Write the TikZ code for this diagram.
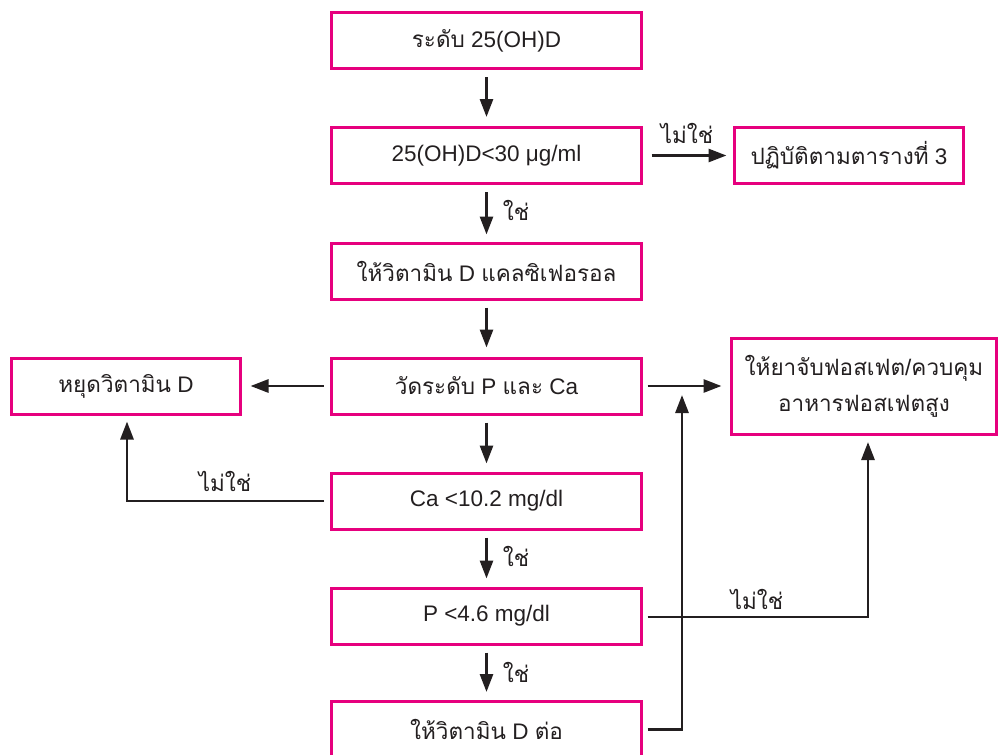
\documentclass[tikz,border=0pt]{standalone}
\usepackage{fontspec}
\setmainfont{Liberation Sans}
\newfontfamily\thaif[Script=Thai]{Loma}
\usetikzlibrary{arrows.meta}
\definecolor{boxpink}{RGB}{230,0,126}
\definecolor{ink}{RGB}{35,31,32}

\begin{document}
\begin{tikzpicture}[x=1pt,y=-1pt,
  box/.style={draw=boxpink, line width=3pt, minimum width=310pt, minimum height=56pt,
    inner sep=0pt, align=center, text=ink, font=\fontsize{22.5}{36}\selectfont},
  flow/.style={draw=ink, line width=2.8pt, -{Triangle[length=18pt,width=13pt]}},
  lbl/.style={inner sep=0pt, text=ink, font=\fontsize{22.5}{27}\selectfont}]

\useasboundingbox (0,0) rectangle (999,755);

% main column
\node[box] (b1) at (486.5,40.5) {{\thaif ระดับ} 25(OH)D};
\node[box] (b2) at (486.5,155.5) {25(OH)D<30 μg/ml};
\node[box] (b4) at (486.5,271) {{\thaif ให้วิตามิน} D {\thaif แคลซิเฟอรอล}};
\node[box] (b5) at (486.5,386) {{\thaif วัดระดับ} P {\thaif และ} Ca};
\node[box] (b8) at (486.5,501) {Ca <10.2 mg/dl};
\node[box] (b9) at (486.5,616) {P <4.6 mg/dl};
\node[box] (b10) at (486.5,729.5) {{\thaif ให้วิตามิน} D {\thaif ต่อ}};

% side boxes
\node[box, minimum width=229pt] (b3) at (849,155.5) {{\thaif ปฏิบัติตามตารางที่} 3};
\node[box, minimum width=229pt] (b6) at (126,386) {{\thaif หยุดวิตามิน} D};
\node[box, minimum width=265pt, minimum height=96pt] (b7) at (864,386.5)
  {{\thaif ให้ยาจับฟอสเฟต}/{\thaif ควบคุม}\\{\thaif อาหารฟอสเฟตสูง}};

% vertical flow
\draw[flow, shorten <=7pt, shorten >=9pt] (b1) -- (b2);
\draw[flow, shorten <=7pt, shorten >=7pt] (b2) -- (b4);
\draw[flow, shorten <=7pt, shorten >=9pt] (b4) -- (b5);
\draw[flow, shorten <=7pt, shorten >=8pt] (b5) -- (b8);
\draw[flow, shorten <=7pt, shorten >=8pt] (b8) -- (b9);
\draw[flow, shorten <=7pt, shorten >=8pt] (b9) -- (b10);

% side flow
\draw[flow, shorten <=8.5pt, shorten >=6.5pt] (b2) -- (b3);
\draw[flow, shorten <=6.5pt, shorten >=8.5pt] (b5) -- (b6);
\draw[flow, shorten <=4.5pt, shorten >=8.5pt] (b5.east) -- (b5.east -| b7.west);
\draw[flow] ([xshift=-6pt]b8.west) -| ([xshift=1pt,yshift=-6pt]b6.south);
\draw[flow] ([xshift=4.5pt,yshift=-1pt]b9.east) -| ([xshift=4pt,yshift=-6pt]b7.south);
\coordinate (jn) at (682,395);
\draw[flow] ([xshift=4.5pt]b10.east) -| (jn);

% labels
\node[lbl] (l1) at (687,133) {\thaif ไม่ใช่};
\node[lbl] (l2) at (516,210) {\thaif ใช่};
\node[lbl] (l3) at (225,481) {\thaif ไม่ใช่};
\node[lbl] (l4) at (516,556) {\thaif ใช่};
\node[lbl] (l5) at (757,599) {\thaif ไม่ใช่};
\node[lbl] (l6) at (516,672) {\thaif ใช่};
\end{tikzpicture}
\end{document}
